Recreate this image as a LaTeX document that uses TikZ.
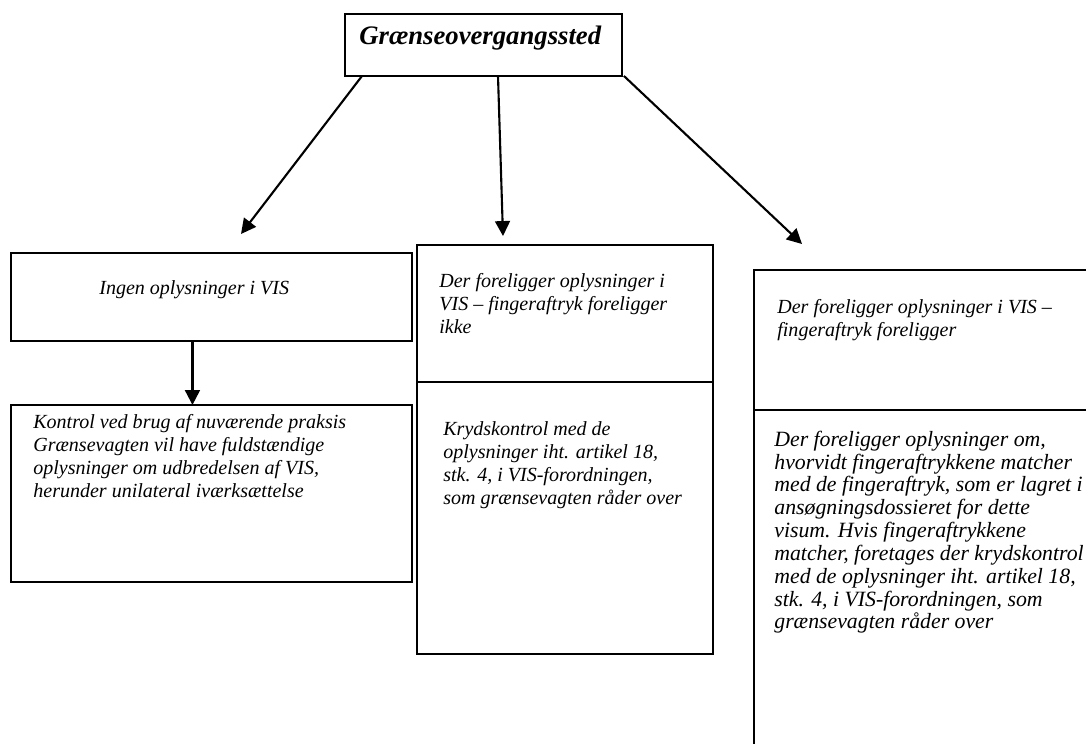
\documentclass[tikz,border=0pt]{standalone}
\usepackage{fontspec}
\setmainfont{Liberation Serif}
\usetikzlibrary{arrows.meta,positioning}

\begin{document}
\begin{tikzpicture}[x=0.02cm, y=-0.02cm, >={Triangle[length=8.5pt, width=8.5pt]}]
    \tikzset{box/.style  = {draw, rectangle, line width = 0.9pt,
                            inner sep = 0pt, outer sep = 0pt},
             txt/.style  = {font  = \fontsize{11.4}{13.2}\selectfont\itshape,
                            align = left, inner sep = 0pt, anchor = base west},
             bigtxt/.style = {txt, font = \fontsize{12.4}{13}\selectfont\itshape},
             titel/.style = {font = \fontsize{15.2}{18}\selectfont\bfseries\itshape,
                            inner sep = 0pt, anchor = base west},
             pil/.style  = {->, line width = 1.2pt}}
    \useasboundingbox (0,0) rectangle (1086,744);
    \clip (0,0) rectangle (1086,744);
    % boxes
    \node[box, anchor = north west, minimum width = 5.54cm, minimum height = 1.24cm]
        (sted) at (345,14) {};
    \node[box, anchor = north west, minimum width = 8.02cm, minimum height = 1.76cm]
        (ingen) at (11,253) {};
    \node[box, minimum width = 8.02cm, minimum height = 3.54cm,
          below = 1.28cm of ingen] (kontrol) {};
    \node[box, anchor = north west, minimum width = 5.92cm, minimum height = 2.74cm]
        (ikkefp) at (417,245) {};
    \node[box, minimum width = 5.92cm, minimum height = 5.44cm,
          below = 0pt of ikkefp] (kryds) {};
    \node[box, anchor = north west, minimum width = 7.2cm, minimum height = 2.8cm]
        (medfp) at (754,270) {};
    \node[box, minimum width = 7.2cm, minimum height = 7.2cm,
          below = 0pt of medfp] (match) {};
    % texts (base = last line)
    \node[titel] (stedtxt) at ([shift={(14,30)}]sted.north west) {Grænseovergangssted};
    \node[txt] (ingentxt) at ([shift={(88,41)}]ingen.north west) {Ingen oplysninger i VIS};
    \node[txt] (kontroltxt) at ([shift={(22,92.6)}]kontrol.north west)
        {Kontrol ved brug af nuværende praksis\\
         Grænsevagten vil have fuldstændige\\
         oplysninger om udbredelsen af VIS,\\
         herunder unilateral iværksættelse};
    \node[txt] (ikkefptxt) at ([shift={(22,88.4)}]ikkefp.north west)
        {Der foreligger oplysninger i\\
         VIS – fingeraftryk foreligger\\
         ikke};
    \node[txt] (krydstxt) at ([shift={(26,122.6)}]kryds.north west)
        {Krydskontrol med de\\
         oplysninger iht. artikel 18,\\
         stk. 4, i VIS-forordningen,\\
         som grænsevagten råder over};
    \node[txt] (medfptxt) at ([shift={(23,66.2)}]medfp.north west)
        {Der foreligger oplysninger i VIS –\\
         fingeraftryk foreligger};
    \node[bigtxt] (matchtxt) at ([shift={(20,219)}]match.north west)
        {Der foreligger oplysninger om,\\
         hvorvidt fingeraftrykkene matcher\\
         med de fingeraftryk, som er lagret i\\
         ansøgningsdossieret for dette\\
         visum. Hvis fingeraftrykkene\\
         matcher, foretages der krydskontrol\\
         med de oplysninger iht. artikel 18,\\
         stk. 4, i VIS-forordningen, som\\
         grænsevagten råder over};
    % arrows
    \coordinate (tip1) at (241,234);
    \coordinate (tip2) at (503,236);
    \coordinate (tip3) at (802,244);
    \draw[pil] ([xshift=17*0.02cm]sted.south west) -- (tip1);
    \draw[pil] ([xshift=153*0.02cm]sted.south west) -- (tip2);
    \draw[pil] ([xshift=2*0.02cm]sted.south east) -- (tip3);
    \draw[pil] ([xshift=-19*0.02cm]ingen.south) -- ([xshift=-19*0.02cm]kontrol.north);
\end{tikzpicture}
\end{document}
